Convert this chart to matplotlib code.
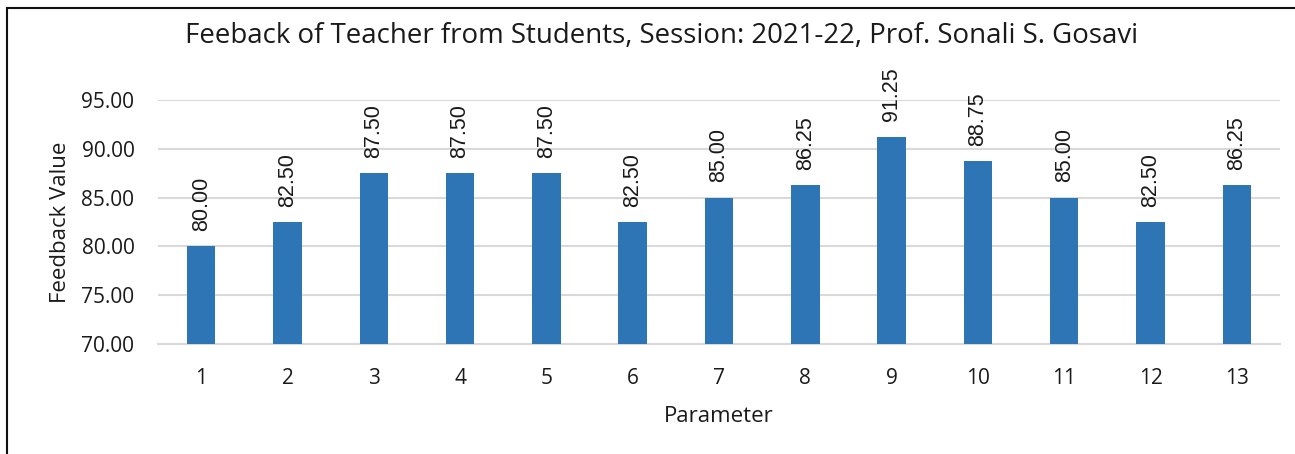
import matplotlib
matplotlib.use("Agg")
import matplotlib.pyplot as plt
from matplotlib.patches import Rectangle

parameters = [str(i) for i in range(1, 14)]
values = [80.00, 82.50, 87.50, 87.50, 87.50, 82.50, 85.00, 86.25, 91.25, 88.75, 85.00, 82.50, 86.25]
yticks = [70, 75, 80, 85, 90, 95]
title = "Feeback of Teacher from Students, Session: 2021-22, Prof. Sonali S. Gosavi"

plt.rcParams['font.family'] = ['Open Sans', 'DejaVu Sans']

W, H = 1295, 454
fig = plt.figure(figsize=(W / 100, H / 100), dpi=100)
ax = fig.add_axes([158 / W, 1 - 344 / H, (1280 - 158) / W, (344 - 100) / H])

bar_color = "#2E75B6"
grid_color = "#D9D9D9"
text_color = "#1a1a1a"
x = list(range(len(parameters)))
ax.bar(x, values, width=0.33, color=bar_color, zorder=3)
ax.set_xlim(-0.5, len(parameters) - 0.5)
ax.set_ylim(70, 95)
ax.set_yticks(yticks)
ax.set_yticklabels([f"{v:.2f}" for v in yticks], fontsize=15, color=text_color)
ax.set_xticks(x)
ax.set_xticklabels(parameters, fontsize=15, color=text_color)
ax.tick_params(axis='both', length=0)
ax.tick_params(axis='y', pad=17)
ax.tick_params(axis='x', pad=17)
ax.grid(axis='y', color=grid_color, linewidth=1.5, zorder=0)
ax.set_axisbelow(True)
for s in ['top', 'right', 'left']:
    ax.spines[s].set_visible(False)
ax.spines['bottom'].set_color(grid_color)
ax.spines['bottom'].set_linewidth(1.5)

for xi, v in zip(x, values):
    ax.annotate(f"{v:.2f}", (xi, v), xytext=(0, 11), textcoords="offset points",
                rotation=90, ha="center", va="bottom", fontsize=15.5,
                family=['Liberation Sans', 'DejaVu Sans'],
                color=text_color, annotation_clip=False)

fig.text(61 / W, 1 - 222 / H, "Feedback Value", rotation=90, ha="center", va="center",
         fontsize=16, color=text_color)
fig.text(719 / W, 1 - 416 / H, "Parameter", ha="center", va="center", fontsize=16, color=text_color)
fig.text(662 / W, 1 - 36 / H, title, ha="center", va="center", fontsize=19.9, color=text_color)

fig.patches.append(Rectangle((7 / W, -0.1), 1.2, 1 - 8 / H + 0.1, transform=fig.transFigure,
                             fill=False, edgecolor="#111111", linewidth=1.5))

fig.savefig("out.png", dpi=100, facecolor="white")
